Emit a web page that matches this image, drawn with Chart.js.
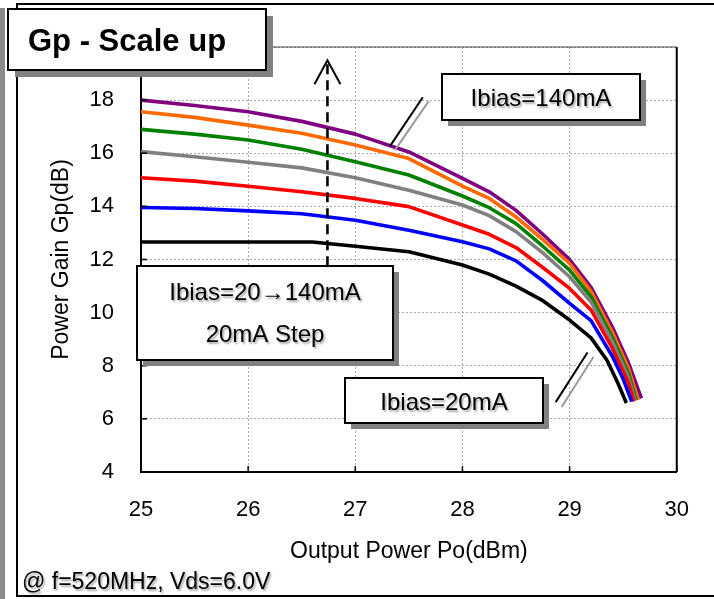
<!DOCTYPE html>
<html>
<head>
<meta charset="utf-8">
<script src="https://cdn.jsdelivr.net/npm/chart.js@4/dist/chart.umd.min.js"></script>
<style>
  html, body { margin: 0; padding: 0; background: #fff; }
  canvas { display: block; }
</style>
</head>
<body>
<canvas id="gp" width="714" height="599" style="width:714px;height:599px"></canvas>
<script>
// Power gain vs output power, one curve per bias current (20 → 140 mA, 20 mA step)
const xTickValues = [25, 26, 27, 28, 29, 30];
const yTickValues = [4, 6, 8, 10, 12, 14, 16, 18, 20];

const seriesLabels = ['Ibias=20mA', 'Ibias=40mA', 'Ibias=60mA', 'Ibias=80mA', 'Ibias=100mA', 'Ibias=120mA', 'Ibias=140mA'];
const seriesColors = ['#000000', '#0000ff', '#ff0000', '#808080', '#008000', '#ff6a00', '#800080'];

// Output power Po (dBm) and gain Gp (dB) for each bias
const po20  = [25, 25.5, 26, 26.6, 27, 27.5, 28, 28.25, 28.5, 28.75, 29, 29.2, 29.35, 29.45, 29.53];
const gp20  = [12.66, 12.66, 12.66, 12.66, 12.5, 12.29, 11.79, 11.45, 11.0, 10.45, 9.72, 9.05, 8.2, 7.35, 6.6];

const po40  = [25, 25.5, 26, 26.5, 27, 27.5, 28, 28.25, 28.5, 28.75, 29, 29.2, 29.4, 29.5, 29.58];
const gp40  = [13.96, 13.92, 13.83, 13.72, 13.48, 13.1, 12.67, 12.4, 11.95, 11.2, 10.35, 9.7, 8.35, 7.5, 6.65];

const po60  = [25, 25.5, 26, 26.5, 27, 27.5, 28, 28.25, 28.5, 28.75, 29, 29.2, 29.4, 29.55, 29.6];
const gp60  = [15.08, 14.95, 14.76, 14.55, 14.3, 13.99, 13.3, 12.95, 12.45, 11.7, 10.91, 10.1, 8.65, 7.35, 6.65];

const po80  = [25, 25.5, 26, 26.5, 27, 27.5, 28, 28.25, 28.5, 28.75, 29, 29.2, 29.4, 29.55, 29.61];
const gp80  = [16.06, 15.87, 15.66, 15.45, 15.08, 14.61, 14.05, 13.65, 13.05, 12.25, 11.35, 10.4, 8.9, 7.55, 6.7];

const po100 = [25, 25.5, 26, 26.5, 27, 27.5, 28, 28.25, 28.5, 28.75, 29, 29.2, 29.4, 29.55, 29.62];
const gp100 = [16.9, 16.72, 16.5, 16.15, 15.68, 15.18, 14.39, 13.95, 13.35, 12.5, 11.6, 10.6, 9.05, 7.7, 6.7];

const po120 = [25, 25.5, 26, 26.5, 27, 27.5, 28, 28.25, 28.5, 28.75, 29, 29.2, 29.4, 29.55, 29.64];
const gp120 = [17.56, 17.35, 17.06, 16.75, 16.31, 15.8, 14.76, 14.3, 13.6, 12.75, 11.85, 10.8, 9.25, 7.9, 6.71];

const po140 = [25, 25.5, 26, 26.5, 27, 27.5, 28, 28.25, 28.5, 28.75, 29, 29.2, 29.4, 29.55, 29.67];
const gp140 = [18.0, 17.8, 17.56, 17.2, 16.72, 16.05, 15.05, 14.55, 13.85, 12.95, 12.0, 10.95, 9.45, 8.1, 6.77];

const poSets = [po20, po40, po60, po80, po100, po120, po140];
const gpSets = [gp20, gp40, gp60, gp80, gp100, gp120, gp140];

const FONT = '"Liberation Sans", Arial, Helvetica, sans-serif';
Chart.defaults.font.family = FONT;
Chart.defaults.color = '#000';

const datasets = seriesLabels.map((label, i) => ({
  label,
  data: poSets[i].map((x, k) => ({ x, y: gpSets[i][k] })),
  borderColor: seriesColors[i],
  backgroundColor: seriesColors[i],
  borderWidth: 3.6,
  pointRadius: 0,
  showLine: true,
  tension: 0,
  borderJoinStyle: 'round',
  borderCapStyle: 'butt'
}));

function drawBox(ctx, x, y, w, h, off) {
  ctx.fillStyle = '#808080';
  ctx.fillRect(x + off, y + off, w, h);
  ctx.fillStyle = '#ffffff';
  ctx.fillRect(x, y, w, h);
  ctx.strokeStyle = '#000';
  ctx.lineWidth = 2;
  ctx.strokeRect(x, y, w, h);
}

function softText(ctx, text, x, y) {
  ctx.save();
  ctx.shadowColor = 'rgba(0,0,0,0.35)';
  ctx.shadowOffsetX = 1.5;
  ctx.shadowOffsetY = 1.5;
  ctx.shadowBlur = 2;
  ctx.fillText(text, x, y);
  ctx.restore();
}

function line(ctx, x1, y1, x2, y2) {
  ctx.beginPath();
  ctx.moveTo(x1, y1);
  ctx.lineTo(x2, y2);
  ctx.stroke();
}

const decorations = {
  id: 'decorations',
  beforeDraw(chart) {
    const ctx = chart.ctx;
    ctx.save();
    ctx.fillStyle = '#fff';
    ctx.fillRect(0, 0, chart.width, chart.height);
    // page edge shading and outer frame
    ctx.fillStyle = '#8a8a8a';
    ctx.fillRect(0, 8, 5, chart.height - 8);
    ctx.strokeStyle = '#000';
    ctx.lineWidth = 2;
    ctx.beginPath();
    ctx.moveTo(chart.width + 2, 4);
    ctx.lineTo(17, 4);
    ctx.lineTo(17, 596);
    ctx.lineTo(chart.width + 2, 596);
    ctx.stroke();
    ctx.restore();
  },
  afterDatasetsDraw(chart) {
    const ctx = chart.ctx;
    const a = chart.chartArea;
    const xs = chart.scales.x, ys = chart.scales.y;
    ctx.save();
    // closing lines of the plot frame
    ctx.strokeStyle = '#000';
    ctx.lineWidth = 2;
    line(ctx, a.right, a.top, a.right, a.bottom);
    ctx.strokeStyle = '#444';
    ctx.lineWidth = 1.2;
    line(ctx, a.left, a.top, a.right, a.top);
    // inward tick marks
    ctx.strokeStyle = '#000';
    ctx.lineWidth = 1.5;
    yTickValues.forEach(v => {
      const py = ys.getPixelForValue(v);
      line(ctx, a.left, py, a.left + 6, py);
    });
    xTickValues.forEach(v => {
      const px = xs.getPixelForValue(v);
      line(ctx, px, a.bottom, px, a.bottom - 6);
    });
    ctx.restore();
  },
  afterDraw(chart) {
    const ctx = chart.ctx;
    const xs = chart.scales.x, ys = chart.scales.y;
    const X = v => xs.getPixelForValue(v);
    const Y = v => ys.getPixelForValue(v);
    ctx.save();

    // dashed arrow: increasing bias
    const ax = X(26.74);
    const apex = Y(19.5);
    ctx.strokeStyle = '#000';
    ctx.lineWidth = 2.6;
    ctx.setLineDash([10, 6]);
    line(ctx, ax, apex + 4, ax, 266);
    ctx.setLineDash([]);
    ctx.lineWidth = 2;
    ctx.beginPath();
    ctx.moveTo(ax - 13, apex + 24);
    ctx.lineTo(ax, apex);
    ctx.lineTo(ax + 13, apex + 24);
    ctx.stroke();

    // leader lines
    ctx.lineWidth = 2;
    ctx.strokeStyle = '#000';
    line(ctx, X(27.324), Y(16.27), X(27.63), Y(18.11));
    line(ctx, X(28.87), Y(6.63), X(29.167), Y(8.5));
    ctx.strokeStyle = '#9a9a9a';
    line(ctx, X(27.37), Y(16.12), X(27.685), Y(17.96));
    line(ctx, X(28.926), Y(6.45), X(29.222), Y(8.33));

    // title box
    drawBox(ctx, 8, 9, 258, 61, 7);
    ctx.fillStyle = '#000';
    ctx.font = 'bold 31px ' + FONT;
    ctx.textAlign = 'left';
    ctx.textBaseline = 'alphabetic';
    ctx.fillText('Gp - Scale up', 28, 51);

    // bias sweep box
    ctx.font = '24px ' + FONT;
    ctx.textAlign = 'center';
    drawBox(ctx, 137, 266, 256, 94, 6);
    ctx.fillStyle = '#000';
    softText(ctx, 'Ibias=20\u2192140mA', 265, 300);
    softText(ctx, '20mA Step', 265, 342);

    // lowest bias label
    drawBox(ctx, 345, 378, 198, 45, 6);
    ctx.fillStyle = '#000';
    softText(ctx, 'Ibias=20mA', 444, 410);

    // highest bias label
    drawBox(ctx, 442, 74, 198, 46, 6);
    ctx.fillStyle = '#000';
    softText(ctx, 'Ibias=140mA', 541, 106);

    // measurement conditions
    ctx.font = '23px ' + FONT;
    ctx.textAlign = 'left';
    softText(ctx, '@ f=520MHz, Vds=6.0V', 22, 589);

    ctx.restore();
  }
};

new Chart(document.getElementById('gp'), {
  type: 'scatter',
  data: { datasets },
  options: {
    responsive: false,
    animation: false,
    devicePixelRatio: 1,
    layout: { padding: { left: 0, top: 47, right: 34, bottom: 0 } },
    plugins: {
      legend: { display: false },
      tooltip: { enabled: false }
    },
    scales: {
      x: {
        type: 'linear',
        min: 25,
        max: 30,
        afterBuildTicks(s) { s.ticks = xTickValues.map(v => ({ value: v })); },
        afterFit(s) { s.height = 127; },
        ticks: { font: { size: 22 }, color: '#000', padding: 25 },
        grid: { color: '#a8a8a8', lineWidth: 1, drawTicks: false },
        border: { display: true, color: '#000', width: 2, dash: [2, 2] },
        title: {
          display: true,
          text: 'Output Power Po(dBm)',
          font: { size: 23 },
          color: '#000',
          padding: { top: 0, bottom: 34 }
        }
      },
      y: {
        type: 'linear',
        min: 4,
        max: 20,
        afterBuildTicks(s) { s.ticks = yTickValues.map(v => ({ value: v })); },
        afterFit(s) { s.width = 141; },
        ticks: { font: { size: 22 }, color: '#000', padding: 27 },
        grid: { color: '#a8a8a8', lineWidth: 1, drawTicks: false },
        border: { display: true, color: '#000', width: 2, dash: [2, 2] },
        title: {
          display: true,
          text: 'Power Gain Gp(dB)',
          font: { size: 23 },
          color: '#000',
          padding: { top: 48, bottom: 0 }
        }
      }
    }
  },
  plugins: [decorations]
});
</script>
</body>
</html>
